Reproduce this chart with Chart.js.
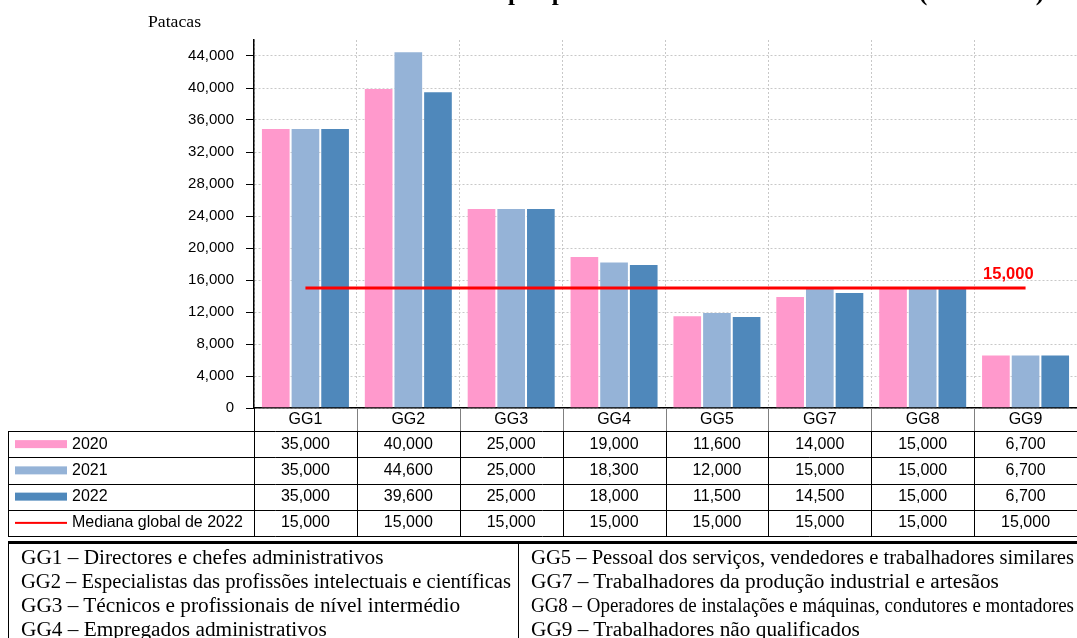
<!DOCTYPE html>
<html>
<head>
<meta charset="utf-8">
<script src="https://cdn.jsdelivr.net/npm/chart.js@4/dist/chart.umd.min.js"></script>
<style>
  html, body { margin: 0; padding: 0; background: #fff; }
  #wrap { position: relative; width: 1077px; height: 638px; overflow: hidden; }
  #c { position: absolute; left: 0; top: 0; }
  #unit { position: absolute; left: 148px; top: 12px; font: 17px "Liberation Serif", serif; color: #000; transform: scaleX(1.04); transform-origin: left center; }
  #notes { position: absolute; left: 8px; top: 541px; width: 1075px; height: 110px;
           border-top: 3px solid #000; border-left: 1px solid #000; box-sizing: border-box; }
  #divider { position: absolute; left: 509px; top: 0; bottom: 0; border-left: 1px solid #000; }
  .col { position: absolute; top: 1px; }
  .col div { height: 24px; line-height: 24px; white-space: nowrap; }
  .col span { display: inline-block; font: 21.3px "Liberation Serif", serif; color: #000; transform-origin: left center; }
</style>
</head>
<body>
<div id="wrap">
  <canvas id="c" width="1077" height="638"></canvas>
  <div id="unit">Patacas</div>
  <div id="notes">
    <div id="divider"></div>
    <div class="col" id="colL" style="left:12px"></div>
    <div class="col" id="colR" style="left:522px"></div>
  </div>
</div>
<script>
// Occupation groups and monthly median values (MOP)
const categories = ['GG1', 'GG2', 'GG3', 'GG4', 'GG5', 'GG7', 'GG8', 'GG9'];
const values2020 = [35000, 40000, 25000, 19000, 11600, 14000, 15000, 6700];
const values2021 = [35000, 44600, 25000, 18300, 12000, 15000, 15000, 6700];
const values2022 = [35000, 39600, 25000, 18000, 11500, 14500, 15000, 6700];
const median2022 = [15000, 15000, 15000, 15000, 15000, 15000, 15000, 15000];
const seriesNames = ['2020', '2021', '2022', 'Mediana global de 2022'];
const yTickValues = [0, 4000, 8000, 12000, 16000, 20000, 24000, 28000, 32000, 36000, 40000, 44000];
const titleText = 'Mediana do rendimento mensal por profissão dos trabalhadores locais (2020-2022)';
const notesLeft = [
  'GG1 – Directores e chefes administrativos',
  'GG2 – Especialistas das profissões intelectuais e científicas',
  'GG3 – Técnicos e profissionais de nível intermédio',
  'GG4 – Empregados administrativos'
];
const notesRight = [
  'GG5 – Pessoal dos serviços, vendedores e trabalhadores similares',
  'GG7 – Trabalhadores da produção industrial e artesãos',
  'GG8 – Operadores de instalações e máquinas, condutores e montadores',
  'GG9 – Trabalhadores não qualificados'
];

const colors = ['#ff99cc', '#95b3d7', '#4f88bb'];
const medianColor = '#ff0000';
const fmt = v => v.toLocaleString('en-US');

// Description lines under the chart, squeezed horizontally when too long
function fillNotes(id, lines, maxW) {
  const col = document.getElementById(id);
  lines.forEach(t => {
    const row = document.createElement('div');
    const s = document.createElement('span');
    s.textContent = t;
    row.appendChild(s);
    col.appendChild(row);
    const w = s.getBoundingClientRect().width;
    if (w > maxW) s.style.transform = 'scaleX(' + (maxW / w) + ')';
  });
}
fillNotes('colL', notesLeft, 490);
fillNotes('colR', notesRight, 543);

// Data table beneath the x axis, title and median label
const tablePlugin = {
  id: 'dataTable',
  afterDraw(chart) {
    const ctx = chart.ctx;
    const xs = chart.scales.x;
    const area = chart.chartArea;
    const left = 8, right = 1077;
    const top = area.bottom;
    const headBottom = top + 23;
    const rowH = 26.25;
    const tableBottom = headBottom + rowH * 4;
    const half = (xs.getPixelForValue(1) - xs.getPixelForValue(0)) / 2;

    ctx.save();
    ctx.font = '16px "Liberation Sans", Arial, sans-serif';
    ctx.fillStyle = '#000';
    ctx.textAlign = 'center';
    ctx.textBaseline = 'middle';

    // header row: category names with grey separators
    categories.forEach((c, i) => {
      const cx = xs.getPixelForValue(i);
      ctx.fillText(c, cx, top + 12);
    });
    ctx.strokeStyle = '#808080';
    ctx.lineWidth = 1;
    for (let i = 1; i < categories.length; i++) {
      const bx = Math.round(xs.getPixelForValue(i) - half) + 0.5;
      ctx.beginPath(); ctx.moveTo(bx, top); ctx.lineTo(bx, headBottom); ctx.stroke();
    }

    // body grid
    ctx.strokeStyle = '#000';
    for (let r = 0; r <= 4; r++) {
      const y = Math.round(headBottom + r * rowH) + 0.5;
      ctx.beginPath(); ctx.moveTo(left, y); ctx.lineTo(right, y); ctx.stroke();
    }
    ctx.beginPath(); ctx.moveTo(left + 0.5, headBottom); ctx.lineTo(left + 0.5, tableBottom); ctx.stroke();
    ctx.beginPath(); ctx.moveTo(Math.round(area.left) + 0.5, top); ctx.lineTo(Math.round(area.left) + 0.5, tableBottom); ctx.stroke();
    for (let i = 1; i < categories.length; i++) {
      const bx = Math.round(xs.getPixelForValue(i) - half) + 0.5;
      ctx.beginPath(); ctx.moveTo(bx, headBottom); ctx.lineTo(bx, tableBottom); ctx.stroke();
    }

    // rows: legend key + values
    const rows = [values2020, values2021, values2022, median2022];
    rows.forEach((vals, r) => {
      const cy = headBottom + rowH * r + rowH / 2;
      if (r < 3) {
        ctx.fillStyle = colors[r];
        ctx.fillRect(15, cy - 4, 52, 8);
      } else {
        ctx.fillStyle = medianColor;
        ctx.fillRect(15, cy - 1, 52, 2);
      }
      ctx.fillStyle = '#000';
      ctx.textAlign = 'left';
      ctx.fillText(seriesNames[r], 72, cy);
      ctx.textAlign = 'center';
      vals.forEach((v, i) => ctx.fillText(fmt(v), xs.getPixelForValue(i), cy));
    });

    // value label at the end of the median line
    const meta = chart.getDatasetMeta(3);
    const last = meta.data[meta.data.length - 1];
    ctx.font = 'bold 16.5px "Liberation Sans", Arial, sans-serif';
    ctx.fillStyle = medianColor;
    ctx.textAlign = 'right';
    ctx.textBaseline = 'alphabetic';
    ctx.fillText(fmt(median2022[median2022.length - 1]), last.x + 8, last.y - 9);

    // chart title along the top edge
    ctx.font = 'bold 25px "Liberation Serif", serif';
    ctx.fillStyle = '#000';
    ctx.textAlign = 'right';
    ctx.fillText(titleText, 1044, 0);
    ctx.restore();
  }
};

const barCommon = { categoryPercentage: 0.865, barPercentage: 1, order: 1,
                    borderWidth: 1, borderColor: 'rgba(255,255,255,0.22)' };

new Chart(document.getElementById('c'), {
  data: {
    labels: categories,
    datasets: [
      Object.assign({ type: 'bar', label: seriesNames[0], data: values2020, backgroundColor: colors[0] }, barCommon),
      Object.assign({ type: 'bar', label: seriesNames[1], data: values2021, backgroundColor: colors[1] }, barCommon),
      Object.assign({ type: 'bar', label: seriesNames[2], data: values2022, backgroundColor: colors[2] }, barCommon),
      { type: 'line', label: seriesNames[3], data: median2022, borderColor: medianColor,
        borderWidth: 3, pointRadius: 0, fill: false, order: 0 }
    ]
  },
  options: {
    responsive: false,
    animation: false,
    layout: { padding: { top: 40, right: 0, bottom: 100, left: 0 } },
    plugins: { legend: { display: false }, tooltip: { enabled: false }, title: { display: false } },
    scales: {
      x: {
        offset: true,
        grid: { offset: true, color: '#c8c8c8', drawTicks: false },
        border: { color: '#000', width: 1.5, dash: [2, 2] },
        ticks: { display: false },
        afterFit(scale) { scale.height = 130; }
      },
      y: {
        min: 0, max: 46000,
        grid: { color: '#c8c8c8', tickColor: '#000', tickLength: 8, tickWidth: 1 },
        border: { color: '#000', width: 1.5, dash: [2, 2] },
        ticks: {
          stepSize: 4000, padding: 12, color: '#000',
          font: { family: '"Liberation Sans", Arial, sans-serif', size: 15 },
          callback: v => fmt(v)
        },
        afterBuildTicks(scale) { scale.ticks = yTickValues.map(v => ({ value: v })); },
        afterFit(scale) { scale.width = 254; }
      }
    }
  },
  plugins: [tablePlugin]
});
</script>
</body>
</html>
